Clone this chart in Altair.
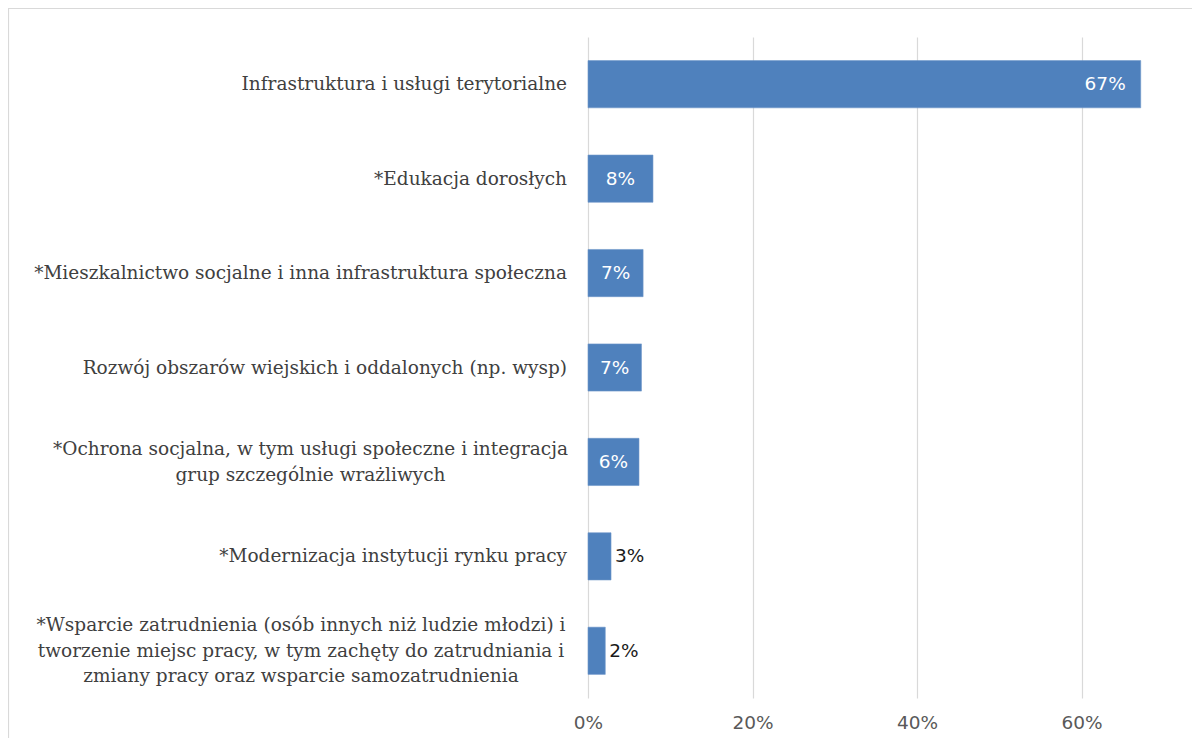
import altair as alt
import pandas as pd

categories = [
    "Infrastruktura i usługi terytorialne",
    "*Edukacja dorosłych",
    "*Mieszkalnictwo socjalne i inna infrastruktura społeczna",
    "Rozwój obszarów wiejskich i oddalonych (np. wysp)",
    "*Ochrona socjalna, w tym usługi społeczne i integracja|grup szczególnie wrażliwych",
    "*Modernizacja instytucji rynku pracy",
    "*Wsparcie zatrudnienia (osób innych niż ludzie młodzi) i|tworzenie miejsc pracy, w tym zachęty do zatrudniania i|zmiany pracy oraz wsparcie samozatrudnienia",
]
values = [0.672, 0.079, 0.067, 0.065, 0.062, 0.028, 0.021]
x_ticks = [0, 0.2, 0.4, 0.6]

df = pd.DataFrame({"cat": categories, "val": values})
df["maxlen"] = df["cat"].apply(lambda s: max(len(p) for p in s.split("|")))
df["nlines"] = df["cat"].apply(lambda s: len(s.split("|")))

PLOT_W = 600
PLOT_H = 661
X_MAX = PLOT_W / 822.5

BLUE = "#4f81bd"
SERIF = "DejaVu Serif"
SANS = "DejaVu Sans"
CAT_FS = 18.5
NUM_FS = 18.5
LINE_H = 25.5


def y_band():
    return alt.Y(
        "cat:N",
        sort=categories,
        scale=alt.Scale(paddingInner=0.5, paddingOuter=0.25),
        axis=None,
    )


x_scale = alt.Scale(domain=[0, X_MAX], nice=False, zero=True)

base = alt.Chart(df)

bars = base.mark_bar(color=BLUE, stroke="#6f97c9", strokeWidth=0.6).encode(
    x=alt.X(
        "val:Q",
        scale=x_scale,
        axis=alt.Axis(
            values=x_ticks,
            format=".0%",
            grid=True,
            gridColor="#d9d9d9",
            gridWidth=1.2,
            domain=False,
            ticks=False,
            labelFlush=False,
            labelFont=SANS,
            labelFontSize=NUM_FS,
            labelColor="#595959",
            labelPadding=15,
            title=None,
        ),
    ),
    y=y_band(),
)

lab_end = base.transform_filter("datum.val >= 0.2").mark_text(
    align="right", baseline="middle", dx=-15, font=SANS, fontSize=NUM_FS, color="white"
).encode(
    x=alt.X("val:Q", scale=x_scale),
    y=y_band(),
    text=alt.Text("val:Q", format=".0%"),
)

lab_mid = base.transform_filter("datum.val >= 0.05 && datum.val < 0.2").transform_calculate(
    half="datum.val / 2"
).mark_text(
    align="center", baseline="middle", font=SANS, fontSize=NUM_FS, color="white"
).encode(
    x=alt.X("half:Q", scale=x_scale),
    y=y_band(),
    text=alt.Text("val:Q", format=".0%"),
)

lab_out = base.transform_filter("datum.val < 0.05").mark_text(
    align="left", baseline="middle", dx=4, font=SANS, fontSize=NUM_FS, color="#1a1a1a"
).encode(
    x=alt.X("val:Q", scale=x_scale),
    y=y_band(),
    text=alt.Text("val:Q", format=".0%"),
)

cat_single = base.transform_filter("datum.nlines == 1").mark_text(
    align="right", baseline="middle", font=SERIF, fontSize=CAT_FS, color="#404040"
).encode(
    x=alt.value(-21),
    y=y_band(),
    text="cat:N",
)

cat_layers = []
for n in sorted(set(df["nlines"])):
    if n == 1:
        continue
    cat_layers.append(
        base.transform_filter(f"datum.nlines == {n}").transform_calculate(
            lines="split(datum.cat, '|')",
            px="-(21 + datum.maxlen * 9.5 / 2)",
        ).mark_text(
            align="center", baseline="middle", font=SERIF, fontSize=CAT_FS,
            color="#404040", lineHeight=LINE_H, dy=-(n - 1) * LINE_H / 2,
        ).encode(
            x=alt.X("px:Q", scale=None),
            y=y_band(),
            text="lines:N",
        )
    )

frame = alt.Chart(alt.Data(values=[{}])).mark_rect(
    fillOpacity=0, stroke="#d9d9d9", strokeWidth=1.2
).encode(
    x=alt.value(-579.5),
    x2=alt.value(700),
    y=alt.value(-28.5),
    y2=alt.value(800),
)

chart = alt.layer(frame, bars, lab_end, lab_mid, lab_out, cat_single, *cat_layers).properties(
    width=PLOT_W,
    height=PLOT_H,
    background="white",
    autosize=alt.AutoSizeParams(type="none"),
    padding={"left": 580, "top": 29, "right": 4, "bottom": 40},
).configure_view(stroke=None)

chart.save("out.html", embed_options={"renderer": "svg", "actions": False})
